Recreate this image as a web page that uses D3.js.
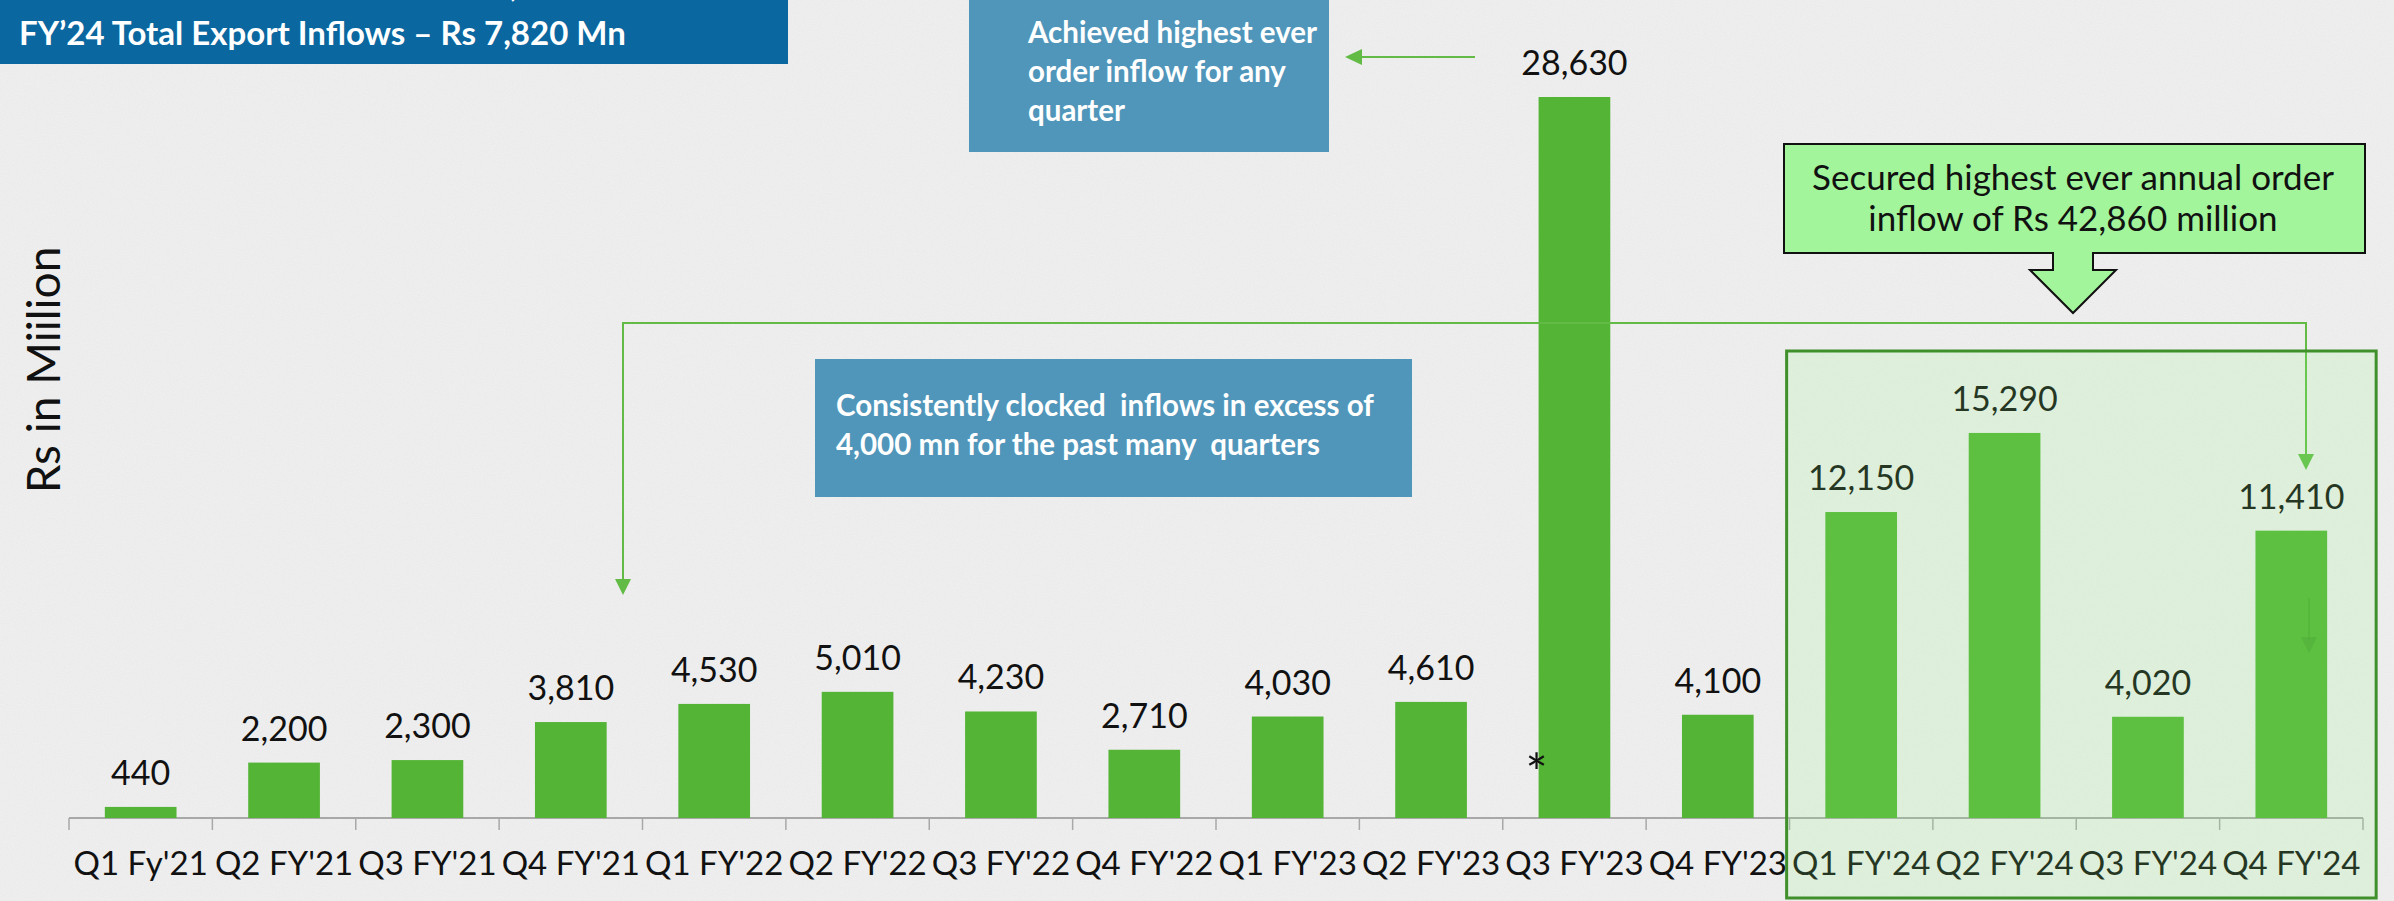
<!DOCTYPE html>
<html>
<head>
<meta charset="utf-8">
<script src="https://cdnjs.cloudflare.com/ajax/libs/d3/7.8.5/d3.min.js"></script>
<style>
  html, body { margin: 0; padding: 0; background: #efefef; }
  #content { width: 2394px; height: 901px; overflow: hidden; }
  text { font-family: Lato, "Open Sans", sans-serif; }
</style>
</head>
<body>
<div id="content"></div>
<script>
// quarterly order inflows, Rs mn
var quarters = ["Q1 Fy'21", "Q2 FY'21", "Q3 FY'21", "Q4 FY'21",
                "Q1 FY'22", "Q2 FY'22", "Q3 FY'22", "Q4 FY'22",
                "Q1 FY'23", "Q2 FY'23", "Q3 FY'23", "Q4 FY'23",
                "Q1 FY'24", "Q2 FY'24", "Q3 FY'24", "Q4 FY'24"];
var inflows = [440, 2200, 2300, 3810, 4530, 5010, 4230, 2710,
               4030, 4610, 28630, 4100, 12150, 15290, 4020, 11410];
var fy24 = ["Q1 FY'24", "Q2 FY'24", "Q3 FY'24", "Q4 FY'24"];
var starred = "Q3 FY'23";
var titleLines = ["FY’24 Total Order Inflows – Rs 42,860 Mn",
                  "FY’24 Total Export Inflows – Rs 7,820 Mn"];
var noteTop = ["Achieved highest ever", "order inflow for any", "quarter"];
var noteMid = ["Consistently clocked  inflows in excess of",
               "4,000 mn for the past many  quarters"];
var noteAnnual = ["Secured highest ever annual order", "inflow of Rs 42,860 million"];

(function(){

  var width = 2394, height = 901;
  var green = "#54b435", lineGreen = "#62bb45", boxBlue = "#5096ba";

  var svg = d3.select("#content").append("svg")
      .attr("width", width)
      .attr("height", height);

  // paper texture
  var defs = svg.append("defs");
  var noise = defs.append("filter").attr("id", "paper")
      .attr("x", 0).attr("y", 0).attr("width", "100%").attr("height", "100%");
  noise.append("feTurbulence").attr("type", "fractalNoise")
      .attr("baseFrequency", 0.9).attr("numOctaves", 2).attr("seed", 3);
  noise.append("feColorMatrix").attr("type", "matrix")
      .attr("values", "0 0 0 0 0.6  0 0 0 0 0.6  0 0 0 0 0.6  0 0 0 0.22 0");

  svg.append("rect").attr("width", width).attr("height", height).attr("fill", "#f1f1f1");
  svg.append("rect").attr("width", width).attr("height", height).attr("filter", "url(#paper)");

  //////////////////////////////////////////////////////////////
  //////////////////////// scales /////////////////////////////
  //////////////////////////////////////////////////////////////
  var x = d3.scaleBand()
      .domain(quarters)
      .range([69, 2363])
      .paddingInner(0.5)
      .paddingOuter(0.25);

  var y = d3.scaleLinear()
      .domain([0, 30000])
      .range([818, 62.5]);

  // axis line with ticks between the categories
  var axis = svg.append("g")
      .attr("transform", "translate(0," + y(0) + ")")
      .call(d3.axisBottom(x).tickSize(0).tickPadding(0));
  axis.select(".domain").remove();
  axis.selectAll("text").remove();

  axis.append("line")
      .attr("x1", x.range()[0]).attr("x2", x.range()[1])
      .attr("stroke", "#a8a8a8").attr("stroke-width", 2);
  axis.selectAll(".sep")
      .data(d3.range(quarters.length + 1))
    .enter().append("line")
      .attr("class", "sep")
      .attr("x1", function(i){ return x.range()[0] + i * x.step(); })
      .attr("x2", function(i){ return x.range()[0] + i * x.step(); })
      .attr("y1", 0).attr("y2", 12)
      .attr("stroke", "#a8a8a8").attr("stroke-width", 1.5);

  svg.selectAll(".qlabel")
      .data(quarters)
    .enter().append("text")
      .attr("class", "qlabel")
      .attr("x", function(d){ return x(d) + x.bandwidth() / 2; })
      .attr("y", 875)
      .attr("text-anchor", "middle")
      .attr("font-size", 33)
      .attr("fill", "#111")
      .text(function(d){ return d; });

  //////////////////////////////////////////////////////////////
  //////////////////////// bars ///////////////////////////////
  //////////////////////////////////////////////////////////////
  svg.selectAll(".bar")
      .data(inflows)
    .enter().append("rect")
      .attr("class", "bar")
      .attr("x", function(d, i){ return x(quarters[i]); })
      .attr("y", function(d){ return y(d); })
      .attr("width", x.bandwidth())
      .attr("height", function(d){ return y(0) - y(d); })
      .attr("fill", green);

  svg.selectAll(".vlabel")
      .data(inflows)
    .enter().append("text")
      .attr("class", "vlabel")
      .attr("x", function(d, i){ return x(quarters[i]) + x.bandwidth() / 2; })
      .attr("y", function(d){ return y(d) - 22; })
      .attr("text-anchor", "middle")
      .attr("font-size", 34)
      .attr("fill", "#111")
      .text(function(d){ return d3.format(",")(d); });

  svg.append("text")
      .attr("x", x(starred) - 2)
      .attr("y", 792)
      .attr("text-anchor", "middle")
      .attr("font-size", 52)
      .attr("fill", "#111")
      .text("*");

  // y title
  svg.append("text")
      .attr("transform", "translate(60,370) rotate(-90)")
      .attr("text-anchor", "middle")
      .attr("font-size", 46)
      .attr("fill", "#111")
      .text("Rs in Miilion");

  //////////////////////////////////////////////////////////////
  //////////////////////// connectors /////////////////////////
  //////////////////////////////////////////////////////////////
  var leftX = 623, rightX = 2306, railY = 323;

  function arrowDown(cx, tipY, col, op){
    svg.append("path")
        .attr("d", "M" + (cx - 8) + "," + (tipY - 16) + "L" + (cx + 8) + "," + (tipY - 16) + "L" + cx + "," + tipY + "Z")
        .attr("fill", col).attr("opacity", op);
  }

  svg.append("path")
      .attr("d", "M" + leftX + "," + (595 - 14) + "V" + railY + "H" + rightX + "V" + (470 - 14))
      .attr("fill", "none")
      .attr("stroke", lineGreen)
      .attr("stroke-width", 2);
  arrowDown(leftX, 595, lineGreen, 1);
  arrowDown(rightX, 470, lineGreen, 1);

  // faint duplicate arrow sitting inside the last bar
  svg.append("line")
      .attr("x1", 2309).attr("x2", 2309).attr("y1", 598).attr("y2", 640)
      .attr("stroke", "#3f9a2a").attr("stroke-width", 1.5).attr("opacity", 0.5);
  arrowDown(2309, 653, "#3f9a2a", 0.5);

  // arrow to the top note
  svg.append("line")
      .attr("x1", 1475).attr("x2", 1360).attr("y1", 57).attr("y2", 57)
      .attr("stroke", lineGreen).attr("stroke-width", 2);
  svg.append("path")
      .attr("d", "M1345,57L1362,49L1362,65Z")
      .attr("fill", lineGreen);

  //////////////////////////////////////////////////////////////
  //////////////////////// notes //////////////////////////////
  //////////////////////////////////////////////////////////////
  // title box, top line cut by the frame
  svg.append("rect")
      .attr("x", 0).attr("y", 0).attr("width", 788).attr("height", 64)
      .attr("fill", "#0a67a0");
  svg.selectAll(".title")
      .data(titleLines)
    .enter().append("text")
      .attr("class", "title")
      .attr("x", 19)
      .attr("y", function(d, i){ return -3 + i * 48; })
      .attr("font-size", 33)
      .attr("font-weight", "bold")
      .attr("fill", "#fff")
      .text(function(d){ return d; });

  svg.append("rect")
      .attr("x", 969).attr("y", 0).attr("width", 360).attr("height", 152)
      .attr("fill", boxBlue);
  svg.selectAll(".ntop")
      .data(noteTop)
    .enter().append("text")
      .attr("class", "ntop")
      .attr("x", 1028)
      .attr("y", function(d, i){ return 43 + i * 39; })
      .attr("font-size", 29.5)
      .attr("font-weight", "bold")
      .attr("fill", "#fff")
      .text(function(d){ return d; });

  svg.append("rect")
      .attr("x", 815).attr("y", 359).attr("width", 597).attr("height", 138)
      .attr("fill", boxBlue);
  svg.selectAll(".nmid")
      .data(noteMid)
    .enter().append("text")
      .attr("class", "nmid")
      .attr("x", 836)
      .attr("y", function(d, i){ return 416 + i * 39; })
      .attr("font-size", 29.5)
      .attr("font-weight", "bold")
      .attr("fill", "#fff")
      .attr("xml:space", "preserve")
      .style("white-space", "pre")
      .text(function(d){ return d; });

  // callout with down arrow
  var cl = 1784, cr = 2365, ct = 144, cb = 253, cx = 2073;
  svg.append("path")
      .attr("d", "M" + cl + "," + ct + "H" + cr + "V" + cb + "H" + (cx + 20) + "V270H" + (cx + 43) +
                 "L" + cx + ",313L" + (cx - 43) + ",270H" + (cx - 20) + "V" + cb + "H" + cl + "Z")
      .attr("fill", "#a2f59b")
      .attr("stroke", "#111")
      .attr("stroke-width", 2);
  svg.selectAll(".nann")
      .data(noteAnnual)
    .enter().append("text")
      .attr("class", "nann")
      .attr("x", cx)
      .attr("y", function(d, i){ return 190 + i * 41; })
      .attr("text-anchor", "middle")
      .attr("font-size", 35)
      .attr("fill", "#111")
      .text(function(d){ return d; });

  // FY'24 highlight
  var first = fy24[0], last = fy24[fy24.length - 1];
  svg.append("rect")
      .attr("x", x(first) - x.step() * 0.27)
      .attr("y", 351)
      .attr("width", x(last) - x(first) + x.bandwidth() + x.step() * 0.27 + 49)
      .attr("height", 547)
      .attr("fill", "rgb(146,255,128)")
      .attr("fill-opacity", 0.16)
      .attr("stroke", "#3f8f2a")
      .attr("stroke-width", 3);

})();
</script>
</body>
</html>
